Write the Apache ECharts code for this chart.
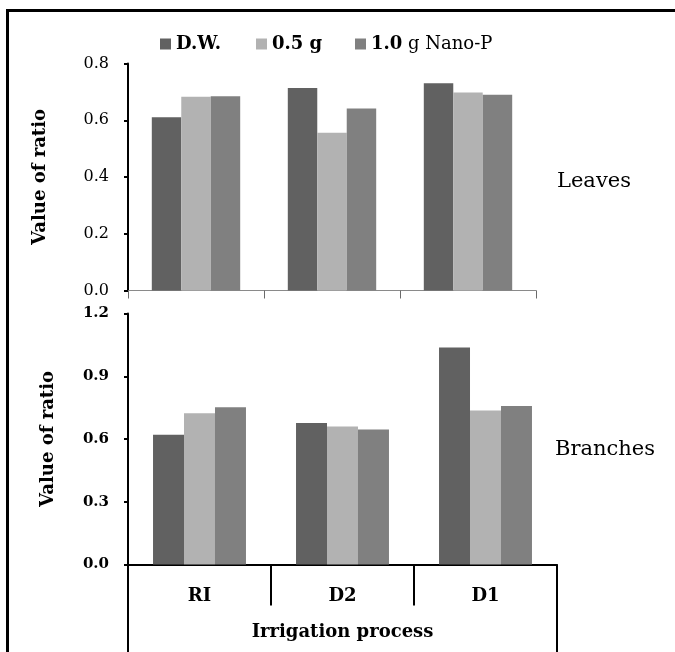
<!DOCTYPE html>
<html>
<head>
<meta charset="utf-8">
<script src="https://cdn.jsdelivr.net/npm/echarts@6/dist/echarts.min.js"></script>
<style>
html,body{margin:0;padding:0;background:#fff;}
#chart{width:675px;height:652px;}
</style>
</head>
<body>
<div id="chart"></div>
<script>
const categories = ['RI', 'D2', 'D1'];
const seriesNames = ['D.W.', '0.5 g', '1.0 g Nano-P'];
const leavesDW = [0.611, 0.714, 0.730];
const leaves05 = [0.683, 0.556, 0.698];
const leaves10 = [0.685, 0.641, 0.690];
const branchesDW = [0.620, 0.676, 1.037];
const branches05 = [0.723, 0.660, 0.736];
const branches10 = [0.752, 0.645, 0.758];
const leavesTicks = [0, 0.2, 0.4, 0.6, 0.8];
const branchesTicks = [0, 0.3, 0.6, 0.9, 1.2];
const outerLabel = ['Irrigation process'];

const FONT = 'DejaVu Serif';
const colors = ['#616161', '#b2b2b2', '#808080'];

const chart = echarts.init(document.getElementById('chart'), null, {renderer: 'canvas'});

function barSeries(name, data, idx, color) {
  return {
    type: 'bar', name: name, data: data,
    xAxisIndex: idx, yAxisIndex: idx,
    barGap: '0%', barCategoryGap: '35%',
    itemStyle: {color: color},
    emphasis: {disabled: true}
  };
}

function legendFor(i, left, weight) {
  return {
    data: [seriesNames[i]], left: left, top: 35, padding: 0,
    icon: 'rect', itemWidth: 11, itemHeight: 11,
    selectedMode: false,
    textStyle: {fontFamily: FONT, fontSize: 18, fontWeight: weight, color: '#000'}
  };
}

chart.setOption({
  animation: false,
  backgroundColor: '#fff',
  color: colors,
  graphic: [{
    type: 'rect',
    shape: {x: 7.5, y: 10.5, width: 720, height: 700},
    style: {fill: 'none', stroke: '#000', lineWidth: 3},
    silent: true
  }],
  title: [
    {text: 'Leaves', left: 557, top: 171, padding: 0,
     textStyle: {fontFamily: FONT, fontSize: 21, fontWeight: 'normal', color: '#000'}},
    {text: 'Branches', left: 555, top: 439, padding: 0,
     textStyle: {fontFamily: FONT, fontSize: 21, fontWeight: 'normal', color: '#000'}}
  ],
  legend: [
    legendFor(0, 160, 'bold'),
    legendFor(1, 256, 'bold'),
    {
      data: [seriesNames[2]], left: 355, top: 35, padding: 0,
      icon: 'rect', itemWidth: 11, itemHeight: 11, selectedMode: false,
      formatter: function () { return '{b|1.0} {r|g Nano-P}'; },
      textStyle: {
        fontFamily: FONT, fontSize: 18, color: '#000',
        rich: {
          b: {fontFamily: FONT, fontSize: 18, fontWeight: 'bold', color: '#000'},
          r: {fontFamily: FONT, fontSize: 18, fontWeight: 'normal', color: '#000'}
        }
      }
    }
  ],
  grid: [
    {left: 128, top: 63.5, width: 408, height: 227},
    {left: 128, top: 313.5, width: 429, height: 251}
  ],
  xAxis: [
    {
      type: 'category', gridIndex: 0, data: categories,
      axisLine: {show: true, lineStyle: {color: '#8a8a8a', width: 1}},
      axisTick: {show: true, interval: 0, length: 8, lineStyle: {color: '#6a6a6a', width: 1}},
      axisLabel: {show: false}
    },
    {
      type: 'category', gridIndex: 1, data: categories,
      axisLine: {show: true, lineStyle: {color: '#000', width: 2}},
      axisTick: {show: true, interval: 0, length: 41, lineStyle: {color: '#000', width: 2}},
      axisLabel: {show: true, interval: 0, margin: 23,
        fontFamily: FONT, fontSize: 18, fontWeight: 'bold', color: '#000'}
    },
    {
      type: 'category', gridIndex: 1, data: outerLabel, position: 'bottom',
      axisLine: {show: false},
      axisTick: {show: true, interval: 0, length: 90, lineStyle: {color: '#000', width: 2}},
      axisLabel: {show: true, interval: 0, margin: 59,
        fontFamily: FONT, fontSize: 18, fontWeight: 'bold', color: '#000'}
    }
  ],
  yAxis: [
    {
      type: 'value', gridIndex: 0,
      min: leavesTicks[0], max: leavesTicks[leavesTicks.length - 1], interval: leavesTicks[1] - leavesTicks[0],
      name: 'Value of ratio', nameLocation: 'middle', nameGap: 79,
      nameTextStyle: {fontFamily: FONT, fontSize: 18, fontWeight: 'bold', color: '#000'},
      axisLine: {show: true, lineStyle: {color: '#000', width: 2}},
      axisTick: {show: true, length: 4, lineStyle: {color: '#000', width: 2}},
      splitLine: {show: false},
      axisLabel: {margin: 19, fontFamily: FONT, fontSize: 16, color: '#000',
        formatter: function (v) { return v.toFixed(1); }}
    },
    {
      type: 'value', gridIndex: 1,
      min: branchesTicks[0], max: branchesTicks[branchesTicks.length - 1], interval: branchesTicks[1] - branchesTicks[0],
      name: 'Value of ratio', nameLocation: 'middle', nameGap: 71,
      nameTextStyle: {fontFamily: FONT, fontSize: 18, fontWeight: 'bold', color: '#000'},
      axisLine: {show: true, lineStyle: {color: '#000', width: 2}},
      axisTick: {show: true, length: 4, lineStyle: {color: '#000', width: 2}},
      splitLine: {show: false},
      axisLabel: {margin: 19, fontFamily: FONT, fontSize: 15, fontWeight: 'bold', color: '#000',
        formatter: function (v) { return v.toFixed(1); }}
    }
  ],
  series: [
    barSeries(seriesNames[0], leavesDW, 0, colors[0]),
    barSeries(seriesNames[1], leaves05, 0, colors[1]),
    barSeries(seriesNames[2], leaves10, 0, colors[2]),
    barSeries(seriesNames[0], branchesDW, 1, colors[0]),
    barSeries(seriesNames[1], branches05, 1, colors[1]),
    barSeries(seriesNames[2], branches10, 1, colors[2])
  ]
});
</script>
</body>
</html>
